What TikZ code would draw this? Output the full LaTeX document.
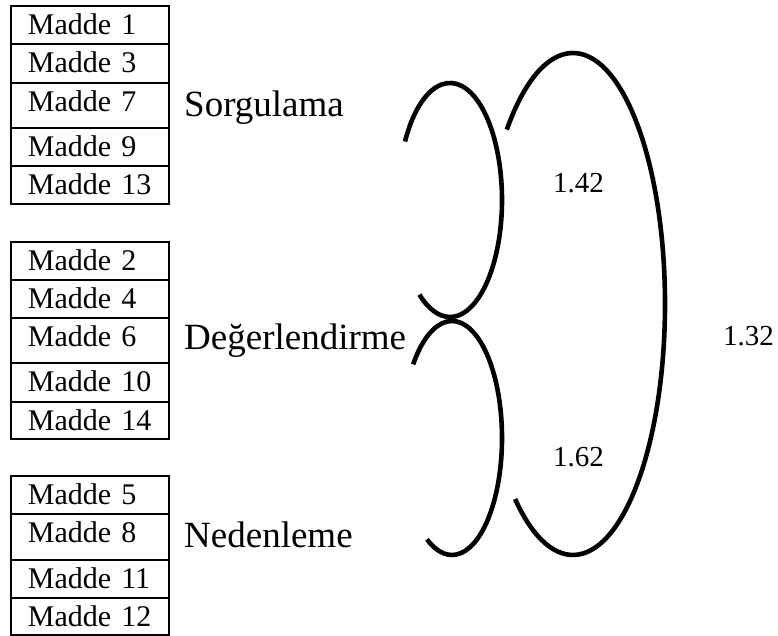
\documentclass[tikz,border=0pt]{standalone}
\usepackage{fontspec}
\setmainfont{Liberation Serif}
\usetikzlibrary{calc}
\begin{document}
\begin{tikzpicture}[x=1pt,y=1pt,
  item/.style={draw, line width=1.9pt, anchor=north west, inner ysep=0pt, inner xsep=17pt,
    text width=124pt, align=left, text height=29pt, font=\fontsize{30}{34}\selectfont},
  grouplabel/.style={anchor=base west, inner sep=0pt, font=\fontsize{37}{41}\selectfont},
  score/.style={anchor=base west, inner sep=0pt, font=\fontsize{29}{33}\selectfont},
  bracket/.style={line width=4.6pt}]
\useasboundingbox (0,0) rectangle (778,636);
% group 1
\node[item, text depth=9pt]  (m1)  at (10,631) {Madde 1};
\node[item, text depth=10pt] (m3)  at (10,593) {Madde 3};
\node[item, text depth=16pt] (m7)  at (10,554) {Madde 7};
\node[item, text depth=9pt]  (m9)  at (10,509) {Madde 9};
\node[item, text depth=9pt]  (m13) at (10,471) {Madde 13};
% group 2
\node[item, text depth=9pt]  (m2)  at (10,395) {Madde 2};
\node[item, text depth=9pt]  (m4)  at (10,357) {Madde 4};
\node[item, text depth=16pt] (m6)  at (10,319) {Madde 6};
\node[item, text depth=10pt] (m10) at (10,274) {Madde 10};
\node[item, text depth=8pt]  (m14) at (10,235) {Madde 14};
% group 3
\node[item, text depth=9pt]  (m5)  at (10,161) {Madde 5};
\node[item, text depth=17pt] (m8)  at (10,123) {Madde 8};
\node[item, text depth=9pt]  (m11) at (10,77)  {Madde 11};
\node[item, text depth=8pt]  (m12) at (10,39)  {Madde 12};
% factor names
\node[grouplabel] (sorg) at (184,519) {Sorgulama};
\node[grouplabel] (deg)  at (184,286) {Değerlendirme};
\node[grouplabel] (ned)  at (184,88)  {Nedenleme};
% brackets
\coordinate (ca) at (450,436);
\coordinate (cb) at (452,198);
\coordinate (cc) at (573,332);
\draw[bracket] ($(ca)+(150:52 and 117)$) arc[start angle=150, end angle=-126, x radius=52, y radius=117];
\draw[bracket] ($(cb)+(141:50 and 117)$) arc[start angle=141, end angle=-120, x radius=50, y radius=117];
\draw[bracket] ($(cc)+(136:92 and 251)$) arc[start angle=136, end angle=-129, x radius=92, y radius=251];
% values
\node[score] (v142) at (553,443) {1.42};
\node[score] (v162) at (553,169) {1.62};
\node[score] (v132) at (723,290) {1.32};
\end{tikzpicture}
\end{document}
